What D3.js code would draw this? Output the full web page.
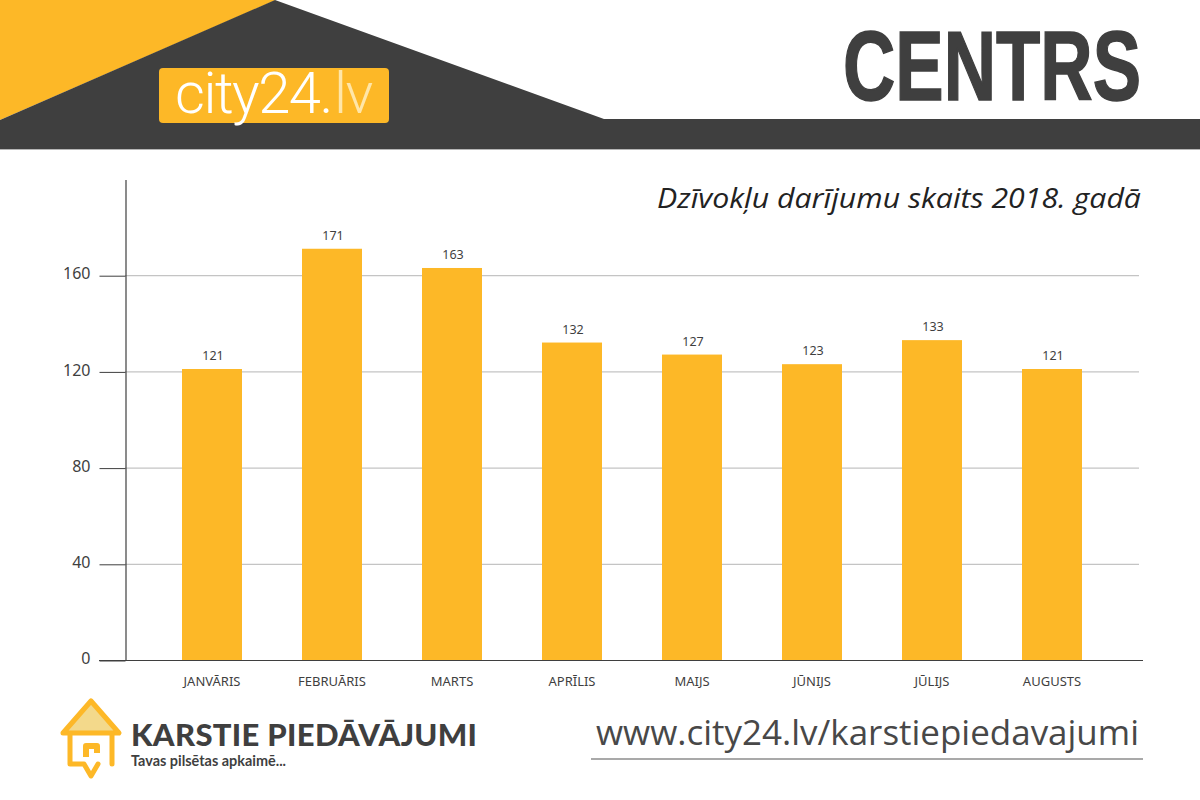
<!DOCTYPE html>
<html>
<head>
<meta charset="utf-8">
<script src="https://cdn.jsdelivr.net/npm/d3@7"></script>
<style>
	html, body { margin: 0; padding: 0; background: #fff; }
	svg { display: block; }
	text { font-family: "Noto Sans", "Open Sans", sans-serif; fill: #3f3f3f; }
</style>
</head>
<body>
<div id="chart"></div>
<script>
var months = ["JANVĀRIS", "FEBRUĀRIS", "MARTS", "APRĪLIS", "MAIJS", "JŪNIJS", "JŪLIJS", "AUGUSTS"];
var deals = [121, 171, 163, 132, 127, 123, 133, 121];
var y_ticks = [0, 40, 80, 120, 160];

var width = 1200;
var height = 800;
var yellow = "#fdb827";
var dark = "#3f3f3f";

var svg = d3.select("#chart").append("svg")
	.attr("width", width)
	.attr("height", height);

// header shapes
svg.append("polygon").attr("points", "0,0 276,0 0,120").attr("fill", yellow);
svg.append("polygon").attr("points", "0,120 275,0 604,119 1200,119 1200,149.5 0,149.5").attr("fill", dark);
svg.append("rect").attr("x", 0).attr("y", 149).attr("width", 1200).attr("height", 1).attr("fill", "#b5b5b5");
svg.append("rect")
	.attr("x", 159).attr("y", 68)
	.attr("width", 230).attr("height", 55)
	.attr("rx", 4)
	.attr("fill", yellow);
svg.append("text")
	.attr("x", 175).attr("y", 113)
	.style("font-family", "Roboto")
	.style("font-size", "58px")
	.style("font-weight", 300)
	.style("letter-spacing", "-1.5px")
	.style("fill", "#fff")
	.text("city24.");
svg.append("text")
	.attr("x", 372).attr("y", 113)
	.attr("text-anchor", "end")
	.style("font-family", "Roboto")
	.style("font-size", "58px")
	.style("font-weight", 300)
	.style("letter-spacing", "-1.5px")
	.style("fill", "#ffe6a8")
	.text("lv");

// squeezed with a transform, the narrow font is not there
svg.append("text")
	.attr("transform", "translate(843,100) scale(0.74,1)")
	.attr("stroke", dark)
	.attr("stroke-width", 1.5)
	.style("font-family", "'Liberation Sans'")
	.style("font-size", "98px")
	.style("font-weight", 700)
	.text("CENTRS");

svg.append("text")
	.attr("x", 657).attr("y", 208)
	.attr("textLength", 484)
	.attr("lengthAdjust", "spacingAndGlyphs")
	.style("font-family", "'Open Sans'")
	.style("font-style", "italic")
	.style("font-size", "28px")
	.style("fill", "#222")
	.text("Dzīvokļu darījumu skaits 2018. gadā");

// chart
var x_scale = d3.scaleBand()
	.domain(months)
	.range([152, 1112])
	.paddingInner(0.5)
	.paddingOuter(0.25);

var y_scale = d3.scaleLinear()
	.domain([0, 200])
	.range([660, 179]);

svg.append("g").selectAll("line")
	.data(y_ticks.filter(function(d) { return d > 0; }))
	.enter()
	.append("line")
	.attr("x1", 125)
	.attr("x2", 1139)
	.attr("y1", function(d) { return y_scale(d) + 0.5; })
	.attr("y2", function(d) { return y_scale(d) + 0.5; })
	.attr("stroke", "#c4c4c4")
	.attr("stroke-width", 1.2);

svg.append("g").selectAll("rect")
	.data(deals)
	.enter()
	.append("rect")
	.attr("x", function(d, i) { return x_scale(months[i]); })
	.attr("y", function(d) { return y_scale(d); })
	.attr("width", x_scale.bandwidth())
	.attr("height", function(d) { return y_scale(0) - y_scale(d); })
	.attr("fill", yellow);

svg.append("g").selectAll("text")
	.data(deals)
	.enter()
	.append("text")
	.attr("x", function(d, i) { return x_scale(months[i]) + x_scale.bandwidth() / 2 + 1; })
	.attr("y", function(d) { return y_scale(d) - 9; })
	.attr("text-anchor", "middle")
	.style("font-size", "12.5px")
	.text(function(d) { return d; });

var y_axis = d3.axisLeft(y_scale)
	.tickValues(y_ticks)
	.tickSize(26)
	.tickSizeOuter(0)
	.tickPadding(9)
	.tickFormat(d3.format("d"));

var axis_g = svg.append("g")
	.attr("transform", "translate(125.5,0.5)")
	.call(y_axis);
axis_g.selectAll("path").attr("stroke", dark).attr("stroke-width", 1.2);
axis_g.selectAll("line").attr("stroke", dark).attr("stroke-width", 1);
axis_g.selectAll("text")
	.attr("dy", "0.2em")
	.style("font-family", "'Noto Sans'")
	.style("font-size", "16px")
	.style("fill", dark);

var x_axis = d3.axisBottom(x_scale).tickSize(0).tickPadding(12);
var x_axis_g = svg.append("g")
	.attr("transform", "translate(0,660.5)")
	.call(x_axis);
x_axis_g.select("path").remove();
x_axis_g.selectAll("text")
	.attr("dy", "1em")
	.style("font-family", "'Noto Sans'")
	.style("font-size", "13px")
	.style("fill", dark);

svg.append("line")
	.attr("x1", 99).attr("x2", 1143)
	.attr("y1", 660.5).attr("y2", 660.5)
	.attr("stroke", dark)
	.attr("stroke-width", 1.2);

// footer logo
svg.append("polygon").attr("points", "91,704 115,731 67,731").attr("fill", "#f3d98b");
var house = svg.append("g")
	.attr("fill", "none")
	.attr("stroke", yellow)
	.attr("stroke-width", 5)
	.attr("stroke-linecap", "round")
	.attr("stroke-linejoin", "round");
house.append("path").attr("d", "M63,733 L91,701 L119,733 Z");
house.append("path").attr("d", "M70,734 V764 H84 L91,776 L98,764");
house.append("path").attr("d", "M112,734 V764");
house.append("path").attr("d", "M86,757 V746 H97 V753").attr("stroke-width", 6).attr("stroke-linecap", "butt");

svg.append("text")
	.attr("x", 131).attr("y", 746)
	.attr("textLength", 346)
	.attr("lengthAdjust", "spacing")
	.style("font-family", "Lato")
	.style("font-size", "31px")
	.style("font-weight", 900)
	.text("KARSTIE PIEDĀVĀJUMI");

svg.append("text")
	.attr("x", 131).attr("y", 766)
	.attr("textLength", 155)
	.attr("lengthAdjust", "spacingAndGlyphs")
	.style("font-family", "Lato")
	.style("font-size", "15px")
	.style("font-weight", 700)
	.text("Tavas pilsētas apkaimē...");

svg.append("text")
	.attr("x", 596).attr("y", 745)
	.attr("textLength", 543)
	.attr("lengthAdjust", "spacingAndGlyphs")
	.style("font-family", "'Open Sans'")
	.style("font-size", "35px")
	.style("fill", "#484848")
	.text("www.city24.lv/karstiepiedavajumi");

svg.append("line")
	.attr("x1", 591).attr("x2", 1143)
	.attr("y1", 759).attr("y2", 759)
	.attr("stroke", "#555")
	.attr("stroke-width", 1.2);
</script>
</body>
</html>
